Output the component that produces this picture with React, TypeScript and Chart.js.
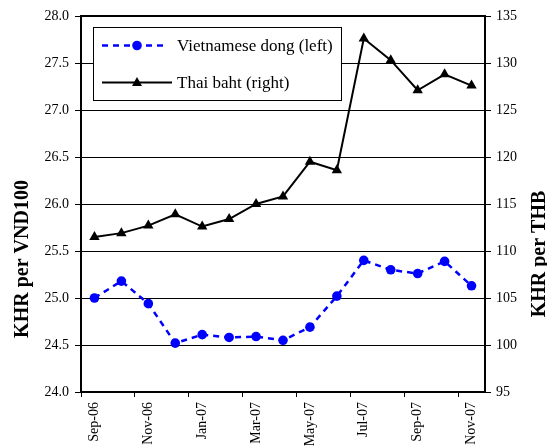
import React, { useEffect, useRef } from "react";
import { Chart, registerables } from "chart.js";

Chart.register(...registerables);

const categories = [
  "Sep-06", "Oct-06", "Nov-06", "Dec-06", "Jan-07", "Feb-07", "Mar-07", "Apr-07",
  "May-07", "Jun-07", "Jul-07", "Aug-07", "Sep-07", "Oct-07", "Nov-07",
];
const vndValues = [25.0, 25.18, 24.94, 24.52, 24.61, 24.58, 24.59, 24.55, 24.69, 25.02, 25.4, 25.3, 25.26, 25.39, 25.13];
const thbValues = [111.5, 111.9, 112.7, 113.9, 112.6, 113.4, 115.0, 115.8, 119.5, 118.6, 132.6, 130.3, 127.1, 128.8, 127.6];
const vndLabel = "Vietnamese dong (left)";
const thbLabel = "Thai baht (right)";
const leftTitle = "KHR per VND100";
const rightTitle = "KHR per THB";

const FONT = "'Liberation Serif', 'Times New Roman', serif";
const BLUE = "#0000FF";

const decorPlugin = {
  id: "decor",
  beforeDatasetsDraw(chart: any) {
    const { ctx, chartArea } = chart;
    ctx.save();
    ctx.strokeStyle = "#000";
    ctx.lineWidth = 2;
    ctx.strokeRect(chartArea.left, chartArea.top, chartArea.right - chartArea.left, chartArea.bottom - chartArea.top);
    ctx.restore();
  },
  afterDraw(chart: any) {
    const { ctx } = chart;
    ctx.save();
    ctx.fillStyle = "#000";
    ctx.font = `bold 20px ${FONT}`;
    ctx.textAlign = "center";
    ctx.textBaseline = "alphabetic";
    ctx.save();
    ctx.translate(28, 259);
    ctx.rotate(-Math.PI / 2);
    ctx.fillText(leftTitle, 0, 0);
    ctx.restore();
    ctx.save();
    ctx.translate(545, 254);
    ctx.rotate(-Math.PI / 2);
    ctx.fillText(rightTitle, 0, 0);
    ctx.restore();

    const bx = 93.5, by = 27.5, bw = 248, bh = 73;
    ctx.fillStyle = "#fff";
    ctx.fillRect(bx, by, bw, bh);
    ctx.strokeStyle = "#000";
    ctx.lineWidth = 1;
    ctx.strokeRect(bx, by, bw, bh);

    const y1 = 45.5;
    ctx.strokeStyle = BLUE;
    ctx.lineWidth = 2.5;
    ctx.setLineDash([6, 5]);
    ctx.beginPath();
    ctx.moveTo(102, y1);
    ctx.lineTo(168, y1);
    ctx.stroke();
    ctx.setLineDash([]);
    ctx.fillStyle = BLUE;
    ctx.beginPath();
    ctx.arc(137, y1, 4.8, 0, Math.PI * 2);
    ctx.fill();

    const y2 = 82.5;
    ctx.strokeStyle = "#000";
    ctx.lineWidth = 2;
    ctx.beginPath();
    ctx.moveTo(102, y2);
    ctx.lineTo(172, y2);
    ctx.stroke();
    ctx.fillStyle = "#000";
    ctx.beginPath();
    ctx.moveTo(137, y2 - 5.5);
    ctx.lineTo(142, y2 + 3.5);
    ctx.lineTo(132, y2 + 3.5);
    ctx.closePath();
    ctx.fill();

    ctx.fillStyle = "#000";
    ctx.font = `17px ${FONT}`;
    ctx.textAlign = "left";
    ctx.textBaseline = "middle";
    ctx.fillText(vndLabel, 177, y1 + 1);
    ctx.fillText(thbLabel, 177, y2 + 1);
    ctx.restore();
  },
};

export default function App() {
  const ref = useRef<HTMLCanvasElement | null>(null);
  useEffect(() => {
    if (!ref.current) return;
    const chart = new Chart(ref.current, {
      type: "line",
      data: {
        labels: categories,
        datasets: [
          {
            label: vndLabel,
            data: vndValues,
            yAxisID: "y",
            borderColor: BLUE,
            backgroundColor: BLUE,
            borderWidth: 2.5,
            borderDash: [6, 5],
            pointRadius: 4.8,
            pointBorderWidth: 0,
            pointBackgroundColor: BLUE,
            tension: 0,
          },
          {
            label: thbLabel,
            data: thbValues,
            yAxisID: "y1",
            borderColor: "#000",
            backgroundColor: "#000",
            borderWidth: 2,
            pointStyle: "triangle",
            pointRadius: 6,
            pointBorderWidth: 0,
            pointBackgroundColor: "#000",
            tension: 0,
          },
        ],
      },
      options: {
        animation: false,
        responsive: false,
        devicePixelRatio: 1,
        layout: { padding: { top: 16, left: 0, right: 0, bottom: 0 } },
        plugins: { legend: { display: false }, tooltip: { enabled: false }, title: { display: false } },
        scales: {
          x: {
            type: "category",
            offset: true,
            grid: {
              offset: true,
              drawOnChartArea: false,
              drawTicks: true,
              tickLength: 5,
              lineWidth: 1,
              color: (c: any) => (c.index % 2 === 0 ? "#000" : "rgba(0,0,0,0)"),
            },
            border: { display: true, color: "#000", width: 2 },
            ticks: {
              autoSkip: false,
              maxRotation: 90,
              minRotation: 90,
              padding: 5,
              color: "#000",
              font: { family: FONT, size: 14 },
              callback: (_v: any, i: number) => (i % 2 === 0 ? categories[i] : ""),
            },
            afterFit: (s: any) => {
              s.height = 55;
            },
          },
          y: {
            type: "linear",
            position: "left",
            min: 24,
            max: 28,
            grid: { color: "#000", lineWidth: 1, tickLength: 6, drawTicks: true },
            border: { display: true, color: "#000", width: 2 },
            ticks: {
              stepSize: 0.5,
              padding: 6,
              color: "#000",
              font: { family: FONT, size: 14 },
              callback: (v: any) => Number(v).toFixed(1),
            },
            afterFit: (s: any) => {
              s.width = 81;
            },
          },
          y1: {
            type: "linear",
            position: "right",
            min: 95,
            max: 135,
            grid: { drawOnChartArea: false, color: "#000", lineWidth: 1, tickLength: 6, drawTicks: true },
            border: { display: true, color: "#000", width: 2 },
            ticks: {
              stepSize: 5,
              padding: 5,
              color: "#000",
              font: { family: FONT, size: 14 },
            },
            afterFit: (s: any) => {
              s.width = 62;
            },
          },
        },
      },
      plugins: [decorPlugin],
    });
    return () => chart.destroy();
  }, []);
  return (
    <div style={{ position: "absolute", left: 0, top: 0, width: 547, height: 447, background: "#fff" }}>
      <canvas ref={ref} width={547} height={447} style={{ display: "block" }} />
    </div>
  );
}
